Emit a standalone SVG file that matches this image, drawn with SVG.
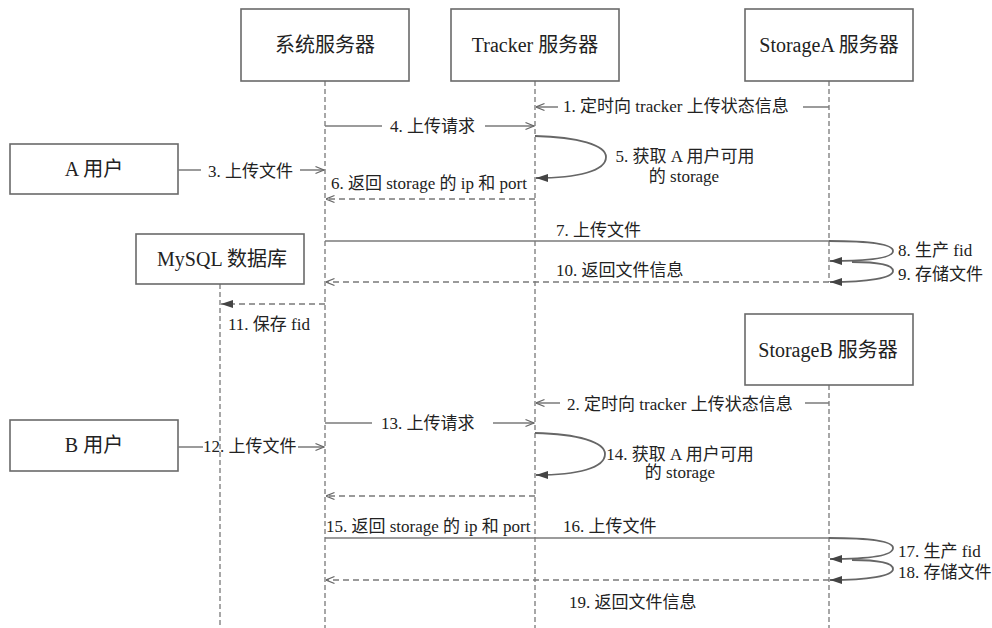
<svg xmlns="http://www.w3.org/2000/svg" width="992" height="628" viewBox="0 0 992 628">
<style>
  .box { fill: #fff; stroke: #6a6a6a; stroke-width: 1.6; }
  .bt { font-family: "Liberation Serif", "Noto Sans CJK SC", serif; font-size: 20px; fill: #222; text-anchor: middle; }
  .mt { font-family: "Liberation Serif", "Noto Sans CJK SC", serif; font-size: 17px; fill: #222; }
  .life { stroke: #8a8a8a; stroke-width: 1.5; stroke-dasharray: 5 3; fill: none; }
  .msg { stroke: #7a7a7a; stroke-width: 1.5; fill: none; }
  .ret { stroke: #7a7a7a; stroke-width: 1.5; fill: none; stroke-dasharray: 6 4; }
  .loop { stroke: #666; stroke-width: 1.8; fill: none; }
</style>
<defs>
  <marker id="open" viewBox="0 0 10 10" refX="9.5" refY="5" markerWidth="10" markerHeight="10" markerUnits="userSpaceOnUse" orient="auto">
    <path d="M1,1.5 L9.5,5 L1,8.5" fill="none" stroke="#666" stroke-width="1.3"/>
  </marker>
  <marker id="fill" viewBox="0 0 12 10" refX="12" refY="5" markerWidth="12" markerHeight="10" markerUnits="userSpaceOnUse" orient="auto">
    <path d="M0,1 L12,5 L0,9 z" fill="#444"/>
  </marker>
</defs>
<rect width="992" height="628" fill="#fff"/>

<g id="lifelines">
  <line class="life" x1="325" y1="81" x2="325" y2="628"/>
  <line class="life" x1="535" y1="81" x2="535" y2="628"/>
  <line class="life" x1="829" y1="81" x2="829" y2="282"/>
  <line class="life" x1="829" y1="385" x2="829" y2="628"/>
  <line class="life" x1="220" y1="284" x2="220" y2="628"/>
</g>

<g id="node-system"><rect class="box" x="241" y="9" width="168" height="72"/><text class="bt" x="325" y="52">系统服务器</text></g>
<g id="node-tracker"><rect class="box" x="451" y="9" width="168" height="72"/><text class="bt" x="535" y="52">Tracker 服务器</text></g>
<g id="node-storageA"><rect class="box" x="745" y="9" width="168" height="72"/><text class="bt" x="829" y="52">StorageA 服务器</text></g>
<g id="node-userA"><rect class="box" x="10" y="144" width="168" height="50"/><text class="bt" x="94" y="176">A 用户</text></g>
<g id="node-mysql"><rect class="box" x="136" y="234" width="168" height="50"/><text class="bt" x="222" y="266">MySQL 数据库</text></g>
<g id="node-storageB"><rect class="box" x="745" y="314" width="168" height="71"/><text class="bt" x="828" y="357">StorageB 服务器</text></g>
<g id="node-userB"><rect class="box" x="10" y="420" width="168" height="51"/><text class="bt" x="94" y="452">B 用户</text></g>

<g id="connectors">
  <!-- 1 -->
  <line class="msg" x1="829" y1="107" x2="803" y2="107"/>
  <line class="msg" x1="558" y1="107" x2="536" y2="107" marker-end="url(#open)"/>
  <!-- 4 -->
  <line class="msg" x1="325" y1="126" x2="382" y2="126"/>
  <line class="msg" x1="485" y1="126" x2="534" y2="126" marker-end="url(#open)"/>
  <!-- 5 -->
  <path class="loop" d="M535,136 C578,137 606,145 606,157 C606,171 578,178 536,178" marker-end="url(#fill)"/>
  <!-- 3 -->
  <line class="msg" x1="178" y1="170" x2="201" y2="170"/>
  <line class="msg" x1="300" y1="170" x2="324" y2="170" marker-end="url(#open)"/>
  <!-- 6 -->
  <line class="ret" x1="535" y1="199" x2="326" y2="199" marker-end="url(#open)"/>
  <!-- 7 -->
  <line class="msg" x1="325" y1="241" x2="829" y2="241"/>
  <path class="loop" d="M829,241 C868,241 893,244 893,251 C893,258 868,261 830,261" marker-end="url(#fill)"/>
  <path class="loop" d="M852,262 C878,262 893,265 893,271 C893,278 868,282 830,282" marker-end="url(#fill)"/>
  <!-- 10 -->
  <line class="ret" x1="829" y1="282" x2="326" y2="282" marker-end="url(#open)"/>
  <!-- 11 -->
  <line class="ret" x1="325" y1="304" x2="221" y2="304" marker-end="url(#fill)"/>
  <!-- 2 -->
  <line class="msg" x1="829" y1="403" x2="805" y2="403"/>
  <line class="msg" x1="560" y1="403" x2="536" y2="403" marker-end="url(#open)"/>
  <!-- 13 -->
  <line class="msg" x1="325" y1="423" x2="372" y2="423"/>
  <line class="msg" x1="493" y1="423" x2="534" y2="423" marker-end="url(#open)"/>
  <!-- 12 -->
  <line class="msg" x1="178" y1="447" x2="203" y2="447"/>
  <line class="msg" x1="298" y1="447" x2="324" y2="447" marker-end="url(#open)"/>
  <!-- 14 -->
  <path class="loop" d="M535,433 C578,434 605,442 605,454 C605,468 578,475 536,475" marker-end="url(#fill)"/>
  <!-- 15 -->
  <line class="ret" x1="535" y1="496" x2="326" y2="496" marker-end="url(#open)"/>
  <!-- 16 -->
  <line class="msg" x1="325" y1="538" x2="829" y2="538"/>
  <path class="loop" d="M829,538 C868,538 893,541 893,548 C893,556 868,559 830,559" marker-end="url(#fill)"/>
  <path class="loop" d="M852,560 C878,560 893,563 893,569 C893,576 868,580 830,580" marker-end="url(#fill)"/>
  <!-- 19 -->
  <line class="ret" x1="829" y1="580" x2="326" y2="580" marker-end="url(#open)"/>
</g>

<g id="labels">
  <text class="mt" x="563" y="112">1. 定时向 tracker 上传状态信息</text>
  <text class="mt" x="390" y="132">4. 上传请求</text>
  <text class="mt" x="685" y="162" text-anchor="middle">5. 获取 A 用户可用</text>
  <text class="mt" x="684" y="182" text-anchor="middle">的 storage</text>
  <text class="mt" x="208" y="177">3. 上传文件</text>
  <text class="mt" x="331" y="189">6. 返回 storage 的 ip 和 port</text>
  <text class="mt" x="556" y="236">7. 上传文件</text>
  <text class="mt" x="898" y="256">8. 生产 fid</text>
  <text class="mt" x="556" y="276">10. 返回文件信息</text>
  <text class="mt" x="898" y="280">9. 存储文件</text>
  <text class="mt" x="228" y="330">11. 保存 fid</text>
  <text class="mt" x="567" y="410">2. 定时向 tracker 上传状态信息</text>
  <text class="mt" x="381" y="429">13. 上传请求</text>
  <text class="mt" x="203" y="452">12. 上传文件</text>
  <text class="mt" x="680" y="460" text-anchor="middle">14. 获取 A 用户可用</text>
  <text class="mt" x="680" y="478" text-anchor="middle">的 storage</text>
  <text class="mt" x="326" y="532">15. 返回 storage 的 ip 和 port</text>
  <text class="mt" x="563" y="532">16. 上传文件</text>
  <text class="mt" x="898" y="557">17. 生产 fid</text>
  <text class="mt" x="898" y="578">18. 存储文件</text>
  <text class="mt" x="569" y="608">19. 返回文件信息</text>
</g>
</svg>
